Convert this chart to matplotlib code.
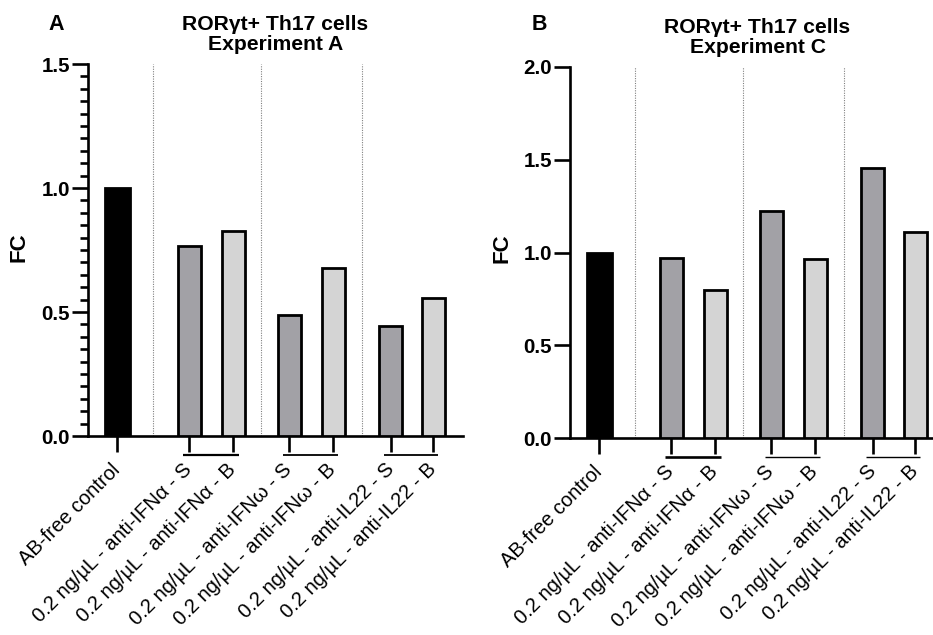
import matplotlib
matplotlib.use("Agg")
import matplotlib.pyplot as plt
from matplotlib.transforms import ScaledTranslation

plt.rcParams['font.family'] = ['Liberation Sans', 'DejaVu Sans']

categories = ["AB-free control",
              "0.2 ng/µL - anti-IFNα - S", "0.2 ng/µL - anti-IFNα - B",
              "0.2 ng/µL - anti-IFNω - S", "0.2 ng/µL - anti-IFNω - B",
              "0.2 ng/µL - anti-IL22 - S", "0.2 ng/µL - anti-IL22 - B"]
values_A = [1.0, 0.765, 0.828, 0.488, 0.677, 0.443, 0.558]
values_C = [1.0, 0.973, 0.797, 1.226, 0.966, 1.453, 1.113]
title_A = "RORγt+ Th17 cells\nExperiment A"
title_C = "RORγt+ Th17 cells\nExperiment C"
yticks_A = [0.0, 0.5, 1.0, 1.5]
yticks_C = [0.0, 0.5, 1.0, 1.5, 2.0]

# layout (GraphPad-style grouped spacing)
xpos = [0, 1.64, 2.64, 3.91, 4.91, 6.22, 7.18]
colors = ['#000000', '#a2a1a6', '#d4d4d4', '#a2a1a6', '#d4d4d4', '#a2a1a6', '#d4d4d4']
widths = [0.57, 0.52, 0.52, 0.52, 0.52, 0.52, 0.52]
pairs = [(1, 2), (3, 4), (5, 6)]

W, H = 933, 635
fig = plt.figure(figsize=(W / 100, H / 100), dpi=100)

def px_axes(left, right, top, bottom):
    return fig.add_axes([left / W, 1 - bottom / H, (right - left) / W, (bottom - top) / H])

axA = px_axes(88, 463, 64, 436)
axB = px_axes(570, 945, 67, 438)

def draw(ax, vals, yticks, ymax, minor, title, pair_lw, panel, panel_xy, fc_xy):
    for sp in ['top', 'right']:
        ax.spines[sp].set_visible(False)
    for sp in ['left', 'bottom']:
        ax.spines[sp].set_linewidth(1.9)
    ax.set_xlim(-0.66, 7.86)
    ax.set_ylim(0, ymax)
    # separators
    for i in (0, 2, 4):
        sx = (xpos[i] + xpos[i + 1]) / 2
        ax.axvline(sx, color='#808080', lw=0.8, linestyle=(0, (1, 1.2)), zorder=1)
    ax.bar(xpos, vals, width=widths, color=colors, edgecolor='black',
           linewidth=2.0, zorder=3)
    ax.set_yticks(yticks)
    ax.set_yticklabels([f"{t:.1f}" for t in yticks], fontweight='bold', fontsize=14.8)
    if minor:
        ax.set_yticks([i * 0.05 for i in range(int(round(ymax / 0.05)) + 1)], minor=True)
        ax.tick_params(axis='y', which='minor', length=5.8, width=1.9, direction='out')
    ax.tick_params(axis='y', which='major', length=11.5, width=1.9, pad=1.5)
    ax.set_xticks(xpos)
    ax.set_xticklabels(categories, rotation=45, ha='right', va='center',
                       rotation_mode='anchor', fontsize=14.5)
    ax.tick_params(axis='x', length=11.5, width=1.9, pad=10.5)
    ax.set_title(title, fontweight='bold', fontsize=15.2, pad=10, linespacing=1.1)
    # group brackets under pairs
    trans = ax.get_xaxis_transform() + ScaledTranslation(0, -19 / 100, fig.dpi_scale_trans)
    for (a, b), lw in zip(pairs, pair_lw):
        ax.plot([xpos[a] - 0.15, xpos[b] + 0.12], [0, 0], color='black', lw=lw,
                transform=trans, clip_on=False, solid_capstyle='butt')
    fig.text(panel_xy[0] / W, 1 - panel_xy[1] / H, panel, fontweight='bold',
             fontsize=15.5, ha='center', va='center')
    fig.text(fc_xy[0] / W, 1 - fc_xy[1] / H, "FC", fontweight='bold', fontsize=16,
             rotation=90, ha='center', va='center')

draw(axA, values_A, yticks_A, 1.5, True, title_A, [1.6, 1.3, 1.3], "A", (56, 24), (19, 247))
draw(axB, values_C, yticks_C, 2.0, False, title_C, [1.9, 1.0, 1.0], "B", (539, 25), (502, 248))

fig.savefig("out.png", dpi=100)
